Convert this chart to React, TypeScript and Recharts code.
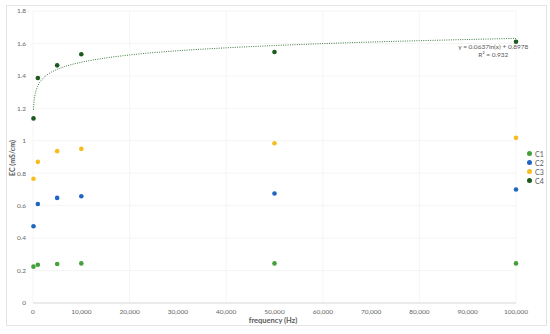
import {
  CartesianGrid, ComposedChart, Legend, Line, ReferenceDot,
  Scatter, XAxis, YAxis,
} from "recharts";

// frequency (Hz) for every series
const FREQ = [100, 1000, 5000, 10000, 50000, 100000];

const C1 = [0.224, 0.236, 0.24, 0.244, 0.244, 0.244];
const C2 = [0.473, 0.61, 0.648, 0.658, 0.675, 0.70];
const C3 = [0.766, 0.87, 0.936, 0.95, 0.985, 1.018];
const C4 = [1.138, 1.387, 1.465, 1.533, 1.547, 1.61];

// log trendline of C4
const TREND_X = [100, 200, 400, 700, 1000, 2000, 3500, 5000, 7500, 10000, 15000, 20000, 30000, 40000, 50000, 65000, 80000, 100000];
const TREND_Y = [1.191, 1.235, 1.280, 1.315, 1.338, 1.382, 1.418, 1.440, 1.466, 1.484, 1.510, 1.529, 1.555, 1.573, 1.587, 1.604, 1.617, 1.631];

const X_TICKS = [0, 10000, 20000, 30000, 40000, 50000, 60000, 70000, 80000, 90000, 100000];
const Y_TICKS = [0, 0.2, 0.4, 0.6, 0.8, 1, 1.2, 1.4, 1.6, 1.8];

const SERIES = [
  { name: "C1", values: C1, color: "#43a03a" },
  { name: "C2", values: C2, color: "#1f66c2" },
  { name: "C3", values: C3, color: "#f5bd1f" },
  { name: "C4", values: C4, color: "#1d5a1d" },
];

const FONT = "Lato, 'Open Sans', sans-serif";
const tick = { fontSize: 6.5, fill: "#666", fontFamily: FONT };

const toPoints = (vals: number[]) => FREQ.map((x, i) => ({ x, y: vals[i] }));
const trendData = TREND_X.map((x, i) => ({ x, y: TREND_Y[i] }));

const Dot = (props: any) => (
  <circle cx={props.cx} cy={props.cy} r={2.3} fill={props.fill} />
);

function LegendBox() {
  return (
    <div style={{ fontFamily: FONT, fontSize: 7, color: "#595959" }}>
      {SERIES.map((s) => (
        <div key={s.name} style={{ display: "flex", alignItems: "center", height: 9 }}>
          <span style={{ width: 5, height: 5, borderRadius: "50%", background: s.color, marginRight: 3 }} />
          {s.name}
        </div>
      ))}
    </div>
  );
}

export default function App() {
  return (
    <div style={{ position: "absolute", left: 0, top: 0, width: 550, height: 334, background: "#fff" }}>
      <div style={{ position: "absolute", left: 6, top: 5, width: 541, height: 321, border: "1px solid #e4e4e4", boxSizing: "border-box" }} />
      <ComposedChart width={550} height={334} margin={{ top: 11, right: 34, bottom: 11, left: 0 }}>
        <CartesianGrid stroke="#f2f2f2" strokeWidth={0.8} />
        <XAxis
          type="number" dataKey="x" domain={[0, 100000]} ticks={X_TICKS}
          tickFormatter={(v: number) => v.toLocaleString("en-US")}
          tick={tick} tickLine={false} tickSize={0} tickMargin={6}
          axisLine={{ stroke: "#dcdcdc" }} height={20}
          label={{
            content: () => (
              <text x={273} y={323} textAnchor="middle" fontFamily={FONT} fontSize={7.5} fontWeight="bold" fill="#595959">
                frequency (Hz)
              </text>
            ),
          }}
        />
        <YAxis
          type="number" dataKey="y" domain={[0, 1.8]} ticks={Y_TICKS}
          tick={tick} tickLine={false} axisLine={false} tickSize={0} tickMargin={7} width={33}
          label={{
            content: () => (
              <text x={12} y={158} transform="rotate(-90 12 158)" textAnchor="middle" dominantBaseline="central" fontFamily={FONT} fontSize={7} fontWeight="bold" fill="#595959">
                EC (mS/cm)
              </text>
            ),
          }}
        />
        <Line
          data={trendData} dataKey="y" type="monotone" stroke="#3f7a3f"
          strokeWidth={1} strokeDasharray="1 1.3" dot={false} activeDot={false}
          isAnimationActive={false} legendType="none"
        />
        {SERIES.map((s) => (
          <Scatter
            key={s.name} name={s.name} data={toPoints(s.values)} dataKey="y"
            fill={s.color} shape={Dot} isAnimationActive={false}
          />
        ))}
        <ReferenceDot
          x={95300} y={1.58} r={0} fill="none" stroke="none"
          label={{
            content: (p: any) => {
              const cx = p.viewBox?.x ?? 0;
              const cy = p.viewBox?.y ?? 0;
              return (
                <g fontFamily={FONT} fontSize={6.5} fill="#595959" textAnchor="middle">
                  <text x={cx} y={cy + 2}>y = 0.0637ln(x) + 0.8978</text>
                  <text x={cx} y={cy + 10}>R² = 0.932</text>
                </g>
              );
            },
          }}
        />
        <Legend
          layout="vertical" align="center" verticalAlign="middle"
          wrapperStyle={{ left: 527, top: 149, width: 24 }}
          content={() => <LegendBox />}
        />
      </ComposedChart>
    </div>
  );
}
